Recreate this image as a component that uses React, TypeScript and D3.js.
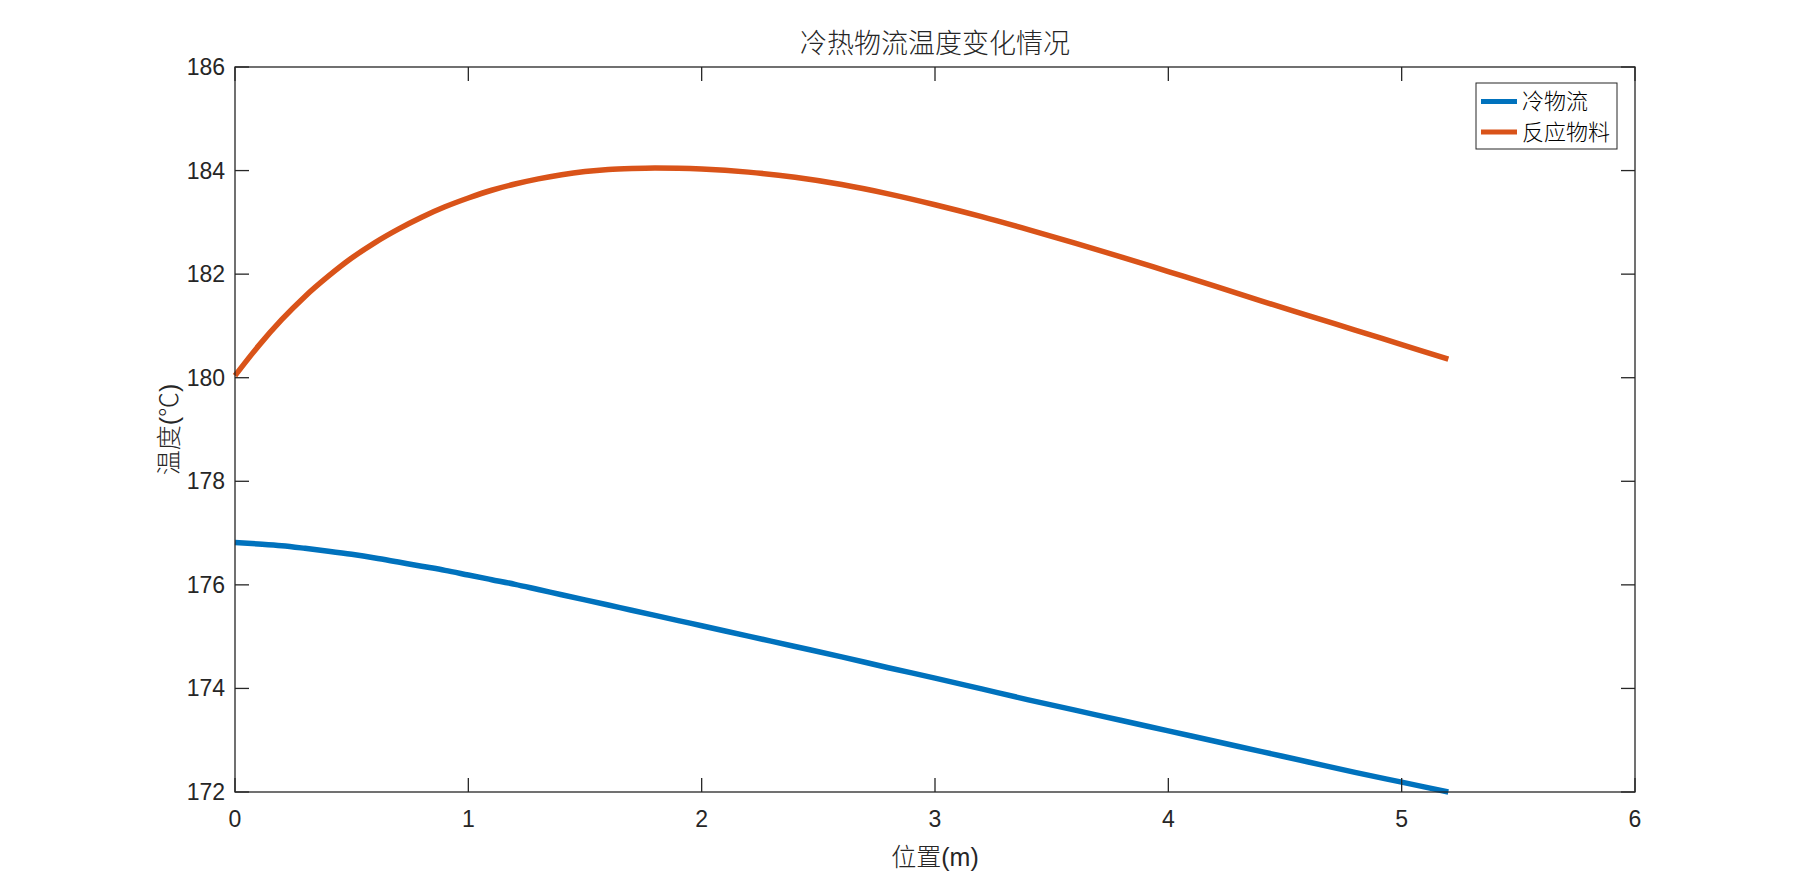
import React from "react";
import * as d3 from "d3";

const positions = [0, 0.1, 0.2, 0.3, 0.4, 0.5, 0.6, 0.7, 0.8, 0.9, 1.0, 1.1, 1.2, 1.3, 1.4, 1.5, 1.6, 1.7, 1.8, 1.9, 2.0, 2.2, 2.4, 2.6, 2.8, 3.0, 3.2, 3.4, 3.6, 3.8, 4.0, 4.2, 4.4, 4.6, 4.8, 5.0, 5.2];
const coldStream = [176.82, 176.79, 176.755, 176.705, 176.65, 176.59, 176.52, 176.44, 176.36, 176.28, 176.19, 176.1, 176.01, 175.91, 175.81, 175.71, 175.61, 175.51, 175.41, 175.31, 175.21, 175.01, 174.81, 174.61, 174.4, 174.2, 173.99, 173.78, 173.58, 173.38, 173.18, 172.98, 172.78, 172.58, 172.38, 172.19, 172.0];
const reactant = [180.04, 180.61, 181.12, 181.57, 181.96, 182.31, 182.61, 182.87, 183.1, 183.3, 183.47, 183.62, 183.74, 183.84, 183.92, 183.98, 184.02, 184.04, 184.05, 184.045, 184.03, 183.97, 183.87, 183.73, 183.55, 183.34, 183.11, 182.86, 182.6, 182.33, 182.05, 181.77, 181.48, 181.2, 180.92, 180.64, 180.36];

const seriesNames = ["冷物流", "反应物料"];
const seriesColors = ["#0072BD", "#D95319"];
const xTicks = [0, 1, 2, 3, 4, 5, 6];
const yTicks = [172, 174, 176, 178, 180, 182, 184, 186];
const titleText = "冷热物流温度变化情况";
const xLabel = "位置(m)";
const yLabel = "温度(℃)";

const W = 1807;
const H = 890;
const L = 235, R = 1635, T = 67, B = 792;
const AX = "#262626";
const FONT = "'Liberation Sans', Arial, 'Noto Sans CJK SC', sans-serif";
const CJK = "'Liberation Sans', 'Noto Sans CJK SC', sans-serif";

export default function App() {
  const x = d3.scaleLinear().domain([0, 6]).range([L, R]);
  const y = d3.scaleLinear().domain([172, 186]).range([B, T]);
  const line = d3
    .line<[number, number]>()
    .x((d) => x(d[0]))
    .y((d) => y(d[1]))
    .curve(d3.curveMonotoneX);
  const series = [coldStream, reactant].map((vals) => positions.map((p, i) => [p, vals[i]] as [number, number]));
  const tickLen = 14;

  return (
    <svg
      width={W}
      height={H}
      style={{ position: "fixed", left: 0, top: 0, background: "#fff" }}
      fontFamily={FONT}
    >
      <rect x={0} y={0} width={W} height={H} fill="#fff" />
      <rect x={L} y={T} width={R - L} height={B - T} fill="#fff" />

      {series.map((s, i) => (
        <path key={i} d={line(s) || ""} fill="none" stroke={seriesColors[i]} strokeWidth={5.5} strokeLinejoin="round" />
      ))}

      {/* box */}
      <rect x={L} y={T} width={R - L} height={B - T} fill="none" stroke={AX} strokeWidth={1.3} />

      {/* x ticks */}
      {xTicks.map((t) => (
        <g key={"x" + t}>
          <line x1={x(t)} x2={x(t)} y1={B} y2={B - tickLen} stroke={AX} strokeWidth={1.3} />
          <line x1={x(t)} x2={x(t)} y1={T} y2={T + tickLen} stroke={AX} strokeWidth={1.3} />
          <text x={x(t)} y={827} textAnchor="middle" fontSize={23} fill={AX}>
            {t}
          </text>
        </g>
      ))}

      {/* y ticks */}
      {yTicks.map((t) => (
        <g key={"y" + t}>
          <line x1={L} x2={L + tickLen} y1={y(t)} y2={y(t)} stroke={AX} strokeWidth={1.3} />
          <line x1={R} x2={R - tickLen} y1={y(t)} y2={y(t)} stroke={AX} strokeWidth={1.3} />
          <text x={225} y={y(t)} textAnchor="end" dominantBaseline="central" fontSize={23} fill={AX}>
            {t}
          </text>
        </g>
      ))}

      {/* title */}
      <text x={(L + R) / 2} y={53} textAnchor="middle" fontSize={27} fill={AX} fontFamily={CJK} fontWeight={300}>
        {titleText}
      </text>

      {/* axis labels */}
      <text x={(L + R) / 2} y={866} textAnchor="middle" fontSize={25} fill={AX} fontFamily={CJK} fontWeight={300}>
        {xLabel}
      </text>
      <text
        transform={`translate(178, ${(T + B) / 2}) rotate(-90)`}
        textAnchor="middle"
        fontSize={25}
        fill={AX}
        fontFamily={CJK}
        fontWeight={300}
      >
        {yLabel}
      </text>

      {/* legend */}
      <rect x={1476} y={83} width={141} height={66} fill="#fff" stroke={AX} strokeWidth={1} />
      {seriesNames.map((n, i) => (
        <g key={n}>
          <line x1={1481} x2={1517} y1={101.5 + i * 30.5} y2={101.5 + i * 30.5} stroke={seriesColors[i]} strokeWidth={5} />
          <text x={1522} y={101.5 + i * 30.5} dominantBaseline="central" fontSize={22} fill="#000" fontFamily={CJK} fontWeight={300}>
            {n}
          </text>
        </g>
      ))}
    </svg>
  );
}
